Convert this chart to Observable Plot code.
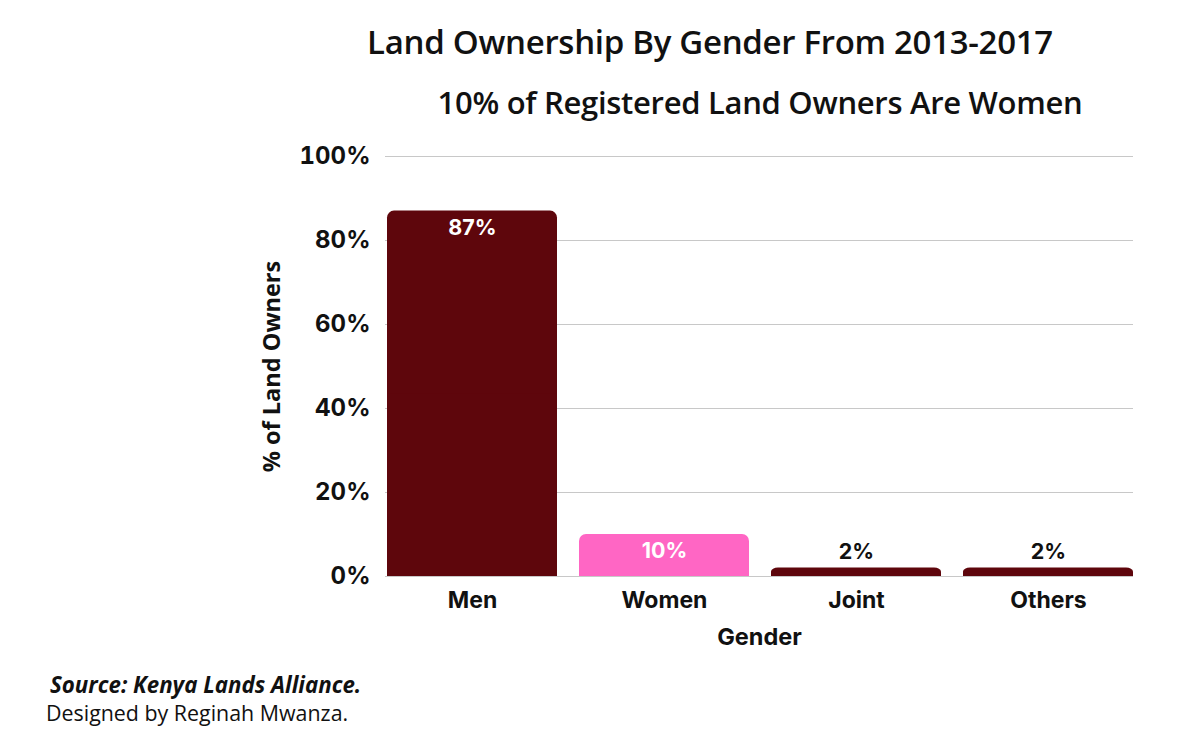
<!DOCTYPE html>
<html>
<head>
<meta charset="utf-8">
<script src="https://cdn.jsdelivr.net/npm/d3@7"></script>
<script src="https://cdn.jsdelivr.net/npm/@observablehq/plot@0.6"></script>
<style>
  html, body { margin: 0; padding: 0; background: #fff; }
  body { width: 1200px; height: 754px; position: relative; overflow: hidden; font-family: "Open Sans", sans-serif; color: #111; }
  .title { position: absolute; left: 0; width: 1420px; top: 22px; text-align: center; font-size: 33px; font-weight: 600; letter-spacing: -0.3px; line-height: 1.2; }
  .subtitle { position: absolute; left: 0; width: 1520px; top: 84px; text-align: center; font-size: 31px; font-weight: 600; letter-spacing: -0.3px; line-height: 1.2; }
  #chart { position: absolute; left: 0; top: 140px; }
  .src { position: absolute; left: 50px; top: 672px; font-size: 22.3px; font-weight: 700; font-style: italic; line-height: 1.2; }
  .des { position: absolute; left: 46px; top: 700px; font-size: 21.4px; font-weight: 400; line-height: 1.2; }
</style>
</head>
<body>
<div class="title">Land Ownership By Gender From 2013-2017</div>
<div class="subtitle">10% of Registered Land Owners Are Women</div>
<div id="chart"></div>
<div class="src">Source: Kenya Lands Alliance.</div>
<div class="des">Designed by Reginah Mwanza.</div>
<script>
const categories = ["Men", "Women", "Joint", "Others"];
const shares = [87, 10, 2, 2];
const barColors = ["#5e060c", "#ff66c4", "#5e060c", "#5e060c"];
const yTicks = [0, 20, 40, 60, 80, 100];

const data = categories.map((c, i) => ({gender: c, value: shares[i], color: barColors[i]}));
const inside = data.filter(d => d.value >= 5);
const outside = data.filter(d => d.value < 5);

const chart = Plot.plot({
  width: 1200,
  height: 520,
  marginLeft: 385,
  marginRight: 67,
  marginTop: 16,
  marginBottom: 84,
  style: {fontFamily: "Inter, 'Open Sans', sans-serif", color: "#111", background: "transparent"},
  x: {domain: categories, range: [387, 1133], paddingInner: 0.115, paddingOuter: 0},
  y: {domain: [0, 100]},
  marks: [
    Plot.gridY(yTicks, {stroke: "#c8c8c8", strokeOpacity: 1, strokeWidth: 1}),
    Plot.axisY(yTicks, {tickSize: 0, tickPadding: 15, tickFormat: d => d + "%", fontSize: 24, fontWeight: 700, label: null}),
    Plot.axisX({tickSize: 0, tickPadding: 15, fontSize: 23, fontWeight: 700, label: null}),
    Plot.barY(data, {x: "gender", y: "value", fill: "color", rx: 7}),
    Plot.barY(data, {x: "gender", y1: 0, y2: d => d.value / 2, fill: "color"}),
    Plot.text(inside, {x: "gender", y: "value", text: d => d.value + "%", dy: 17, fill: "white", fontSize: 21.5, fontWeight: 700}),
    Plot.text(outside, {x: "gender", y: "value", text: d => d.value + "%", dy: -16, fill: "#111", fontSize: 21.5, fontWeight: 700}),
    Plot.text(["Gender"], {frameAnchor: "bottom", dy: 68, fontSize: 23.5, fontWeight: 700, fill: "#111"}),
    Plot.text(["% of Land Owners"], {frameAnchor: "left", textAnchor: "middle", dx: -113, rotate: -90, fontSize: 23.5, fontWeight: 700, fill: "#111", fontFamily: "'Open Sans', sans-serif"})
  ]
});
document.getElementById("chart").appendChild(chart);
</script>
</body>
</html>
